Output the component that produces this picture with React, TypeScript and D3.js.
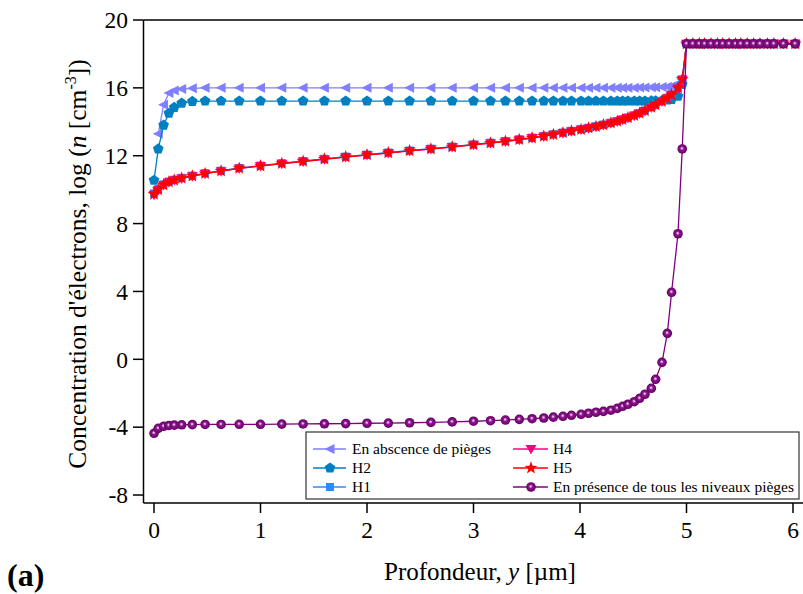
import React from 'react';
import * as d3 from 'd3';

// Depth mesh (µm)
const depth = [
  0, 0.04, 0.09, 0.14, 0.19, 0.26, 0.36, 0.48, 0.63, 0.8,
  1.0, 1.2, 1.4, 1.6, 1.8, 2.0, 2.2, 2.4, 2.6, 2.8,
  3.0, 3.16, 3.3, 3.43, 3.55, 3.66, 3.75, 3.84, 3.92, 4.01,
  4.08, 4.15, 4.22, 4.29, 4.35, 4.40, 4.45, 4.51, 4.56, 4.61,
  4.67, 4.71, 4.77, 4.82, 4.86, 4.92, 4.96, 5.0, 5.06, 5.12,
  5.17, 5.23, 5.29, 5.34, 5.40, 5.46, 5.51, 5.57, 5.63, 5.69,
  5.76, 5.82, 5.91, 6.02,
];

const absence: (number | null)[] = [
  null, 13.3, 15.0, 15.7, 15.85, 15.93, 15.97, 16.0, 16.0, 16.0,
  16.0, 16.0, 16.0, 16.0, 16.0, 16.0, 16.0, 16.0, 16.0, 16.0,
  16.0, 16.0, 16.0, 16.0, 16.0, 16.0, 16.0, 16.0, 16.0, 16.0,
  16.0, 16.0, 16.0, 16.0, 16.0, 16.0, 16.01, 16.01, 16.02, 16.02,
  16.03, 16.04, 16.05, 16.07, 16.1, 16.25, 16.5, 18.6, 18.6, 18.6,
  18.6, 18.6, 18.6, 18.6, 18.6, 18.6, 18.6, 18.6, 18.6, 18.6,
  18.6, 18.6, 18.6, 18.6,
];

const h2 = [
  10.55, 12.4, 13.8, 14.5, 14.85, 15.1, 15.2, 15.22, 15.22, 15.22,
  15.22, 15.22, 15.22, 15.22, 15.22, 15.22, 15.22, 15.22, 15.22, 15.22,
  15.22, 15.22, 15.22, 15.22, 15.22, 15.22, 15.22, 15.22, 15.22, 15.22,
  15.22, 15.22, 15.22, 15.22, 15.22, 15.22, 15.22, 15.22, 15.22, 15.22,
  15.23, 15.24, 15.25, 15.28, 15.32, 15.5, 16.2, 18.6, 18.6, 18.6,
  18.6, 18.6, 18.6, 18.6, 18.6, 18.6, 18.6, 18.6, 18.6, 18.6,
  18.6, 18.6, 18.6, 18.6,
];

const h1 = [
  9.78, 10.04, 10.31, 10.48, 10.59, 10.7, 10.83, 10.97, 11.12, 11.28,
  11.42, 11.56, 11.69, 11.82, 11.95, 12.07, 12.19, 12.31, 12.42, 12.54,
  12.67, 12.77, 12.87, 12.97, 13.07, 13.17, 13.27, 13.37, 13.47, 13.57,
  13.65, 13.74, 13.84, 13.95, 14.05, 14.15, 14.26, 14.39, 14.52, 14.67,
  14.87, 15.02, 15.22, 15.42, 15.62, 16.02, 16.5, 18.6, 18.6, 18.6,
  18.6, 18.6, 18.6, 18.6, 18.6, 18.6, 18.6, 18.6, 18.6, 18.6,
  18.6, 18.6, 18.6, 18.6,
];

const h4 = [
  9.7, 9.98, 10.27, 10.44, 10.55, 10.66, 10.79, 10.94, 11.09, 11.25,
  11.39, 11.53, 11.66, 11.79, 11.92, 12.04, 12.16, 12.28, 12.39, 12.51,
  12.64, 12.74, 12.84, 12.94, 13.04, 13.14, 13.24, 13.34, 13.44, 13.54,
  13.62, 13.71, 13.81, 13.92, 14.02, 14.12, 14.23, 14.36, 14.49, 14.64,
  14.84, 14.99, 15.19, 15.39, 15.59, 15.98, 16.48, 18.6, 18.6, 18.6,
  18.6, 18.6, 18.6, 18.6, 18.6, 18.6, 18.6, 18.6, 18.6, 18.6,
  18.6, 18.6, 18.6, 18.6,
];

const h5 = [
  9.73, 10.0, 10.28, 10.45, 10.56, 10.67, 10.8, 10.95, 11.1, 11.26,
  11.4, 11.54, 11.67, 11.8, 11.93, 12.05, 12.17, 12.29, 12.4, 12.52,
  12.65, 12.75, 12.85, 12.95, 13.05, 13.15, 13.25, 13.35, 13.45, 13.55,
  13.63, 13.72, 13.82, 13.93, 14.03, 14.13, 14.24, 14.37, 14.5, 14.65,
  14.85, 15.0, 15.2, 15.4, 15.6, 16.0, 16.5, 18.6, 18.6, 18.6,
  18.6, 18.6, 18.6, 18.6, 18.6, 18.6, 18.6, 18.6, 18.6, 18.6,
  18.6, 18.6, 18.6, 18.6,
];

const allTraps = [
  -4.36, -4.07, -3.95, -3.9, -3.88, -3.86, -3.85, -3.84, -3.84, -3.83,
  -3.83, -3.82, -3.81, -3.8, -3.79, -3.77, -3.76, -3.74, -3.72, -3.69,
  -3.65, -3.62, -3.58, -3.54, -3.5, -3.46, -3.41, -3.36, -3.3, -3.24,
  -3.18, -3.12, -3.07, -3.0, -2.89, -2.77, -2.65, -2.5, -2.3, -2.06,
  -1.71, -1.18, -0.18, 1.53, 3.95, 7.4, 12.4, 18.6, 18.6, 18.6,
  18.6, 18.6, 18.6, 18.6, 18.6, 18.6, 18.6, 18.6, 18.6, 18.6,
  18.6, 18.6, 18.6, 18.6,
];

const xTicks = [0, 1, 2, 3, 4, 5, 6];
const yTicks = [-8, -4, 0, 4, 8, 12, 16, 20];

type Shape = 'left' | 'pent' | 'square' | 'down' | 'star' | 'sphere';
const series: { name: string; values: (number | null)[]; color: string; shape: Shape }[] = [
  { name: 'En abscence de pièges', values: absence, color: '#7f7fff', shape: 'left' },
  { name: 'H2', values: h2, color: '#0080c0', shape: 'pent' },
  { name: 'H1', values: h1, color: '#2b8cff', shape: 'square' },
  { name: 'H4', values: h4, color: '#ff0080', shape: 'down' },
  { name: 'H5', values: h5, color: '#ff0000', shape: 'star' },
  { name: 'En présence de tous les niveaux pièges', values: allTraps, color: '#800080', shape: 'sphere' },
];

function polygon(pts: [number, number][]) {
  return 'M' + pts.map((p) => p[0].toFixed(2) + ',' + p[1].toFixed(2)).join('L') + 'Z';
}

function markerPath(shape: Shape): string {
  if (shape === 'left') return polygon([[-5.5, 0], [4.5, -5], [4.5, 5]]);
  if (shape === 'down') return polygon([[-5.5, -4], [5.5, -4], [0, 5.5]]);
  if (shape === 'square') return polygon([[-4, -4], [4, -4], [4, 4], [-4, 4]]);
  if (shape === 'pent') {
    const pts: [number, number][] = [];
    for (let i = 0; i < 5; i++) {
      const a = -Math.PI / 2 + (i * 2 * Math.PI) / 5;
      pts.push([5.6 * Math.cos(a), 5.6 * Math.sin(a)]);
    }
    return polygon(pts);
  }
  if (shape === 'star') {
    const pts: [number, number][] = [];
    for (let i = 0; i < 10; i++) {
      const a = -Math.PI / 2 + (i * Math.PI) / 5;
      const r = i % 2 === 0 ? 6.8 : 2.8;
      pts.push([r * Math.cos(a), r * Math.sin(a)]);
    }
    return polygon(pts);
  }
  return '';
}

function Marker({ shape, color, cx, cy }: { shape: Shape; color: string; cx: number; cy: number }) {
  if (shape === 'sphere') {
    return <circle cx={cx} cy={cy} r={4.8} fill="url(#sphereGrad)" />;
  }
  return <path d={markerPath(shape)} transform={`translate(${cx},${cy})`} fill={color} />;
}

export default function App() {
  const W = 803;
  const H = 594;
  const x = d3.scaleLinear().domain([-0.0986, 6.2]).range([143.5, 814.3]);
  const y = d3.scaleLinear().domain([-8.47, 20]).range([503, 20]);
  const serif = "'Liberation Serif', 'Times New Roman', serif";

  const line = d3
    .line<[number, number | null]>()
    .defined((d) => d[1] !== null)
    .x((d) => x(d[0]))
    .y((d) => y(d[1] as number));

  const legendRows = [
    { s: series[0], col: 0, row: 0 },
    { s: series[1], col: 0, row: 1 },
    { s: series[2], col: 0, row: 2 },
    { s: series[3], col: 1, row: 0 },
    { s: series[4], col: 1, row: 1 },
    { s: series[5], col: 1, row: 2 },
  ];
  const legCols = [{ x1: 313, x2: 346, mx: 330, tx: 352 }, { x1: 513, x2: 548, mx: 531, tx: 553 }];
  const legRowY = [449, 468, 487];

  return (
    <svg width={W} height={H} style={{ position: 'absolute', left: 0, top: 0, background: '#fff' }}>
      <defs>
        <radialGradient id="sphereGrad" cx="50%" cy="50%" r="50%" fx="46%" fy="42%">
          <stop offset="0%" stopColor="#f8eef8" />
          <stop offset="14%" stopColor="#d9a6d9" />
          <stop offset="40%" stopColor="#8c168c" />
          <stop offset="100%" stopColor="#640064" />
        </radialGradient>
        <clipPath id="plotClip">
          <rect x={143} y={0} width={W - 143} height={503} />
        </clipPath>
      </defs>
      <rect x={0} y={0} width={W} height={H} fill="#fff" />

      <g clipPath="url(#plotClip)">
        {series.map((s) => {
          const pts = depth.map((d, i) => [d, s.values[i]] as [number, number | null]);
          return (
            <g key={s.name}>
              <path d={line(pts) || ''} fill="none" stroke={s.color} strokeWidth={1.3} />
              {pts
                .filter((p) => p[1] !== null)
                .map((p, i) => (
                  <Marker key={i} shape={s.shape} color={s.color} cx={x(p[0])} cy={y(p[1] as number)} />
                ))}
            </g>
          );
        })}
      </g>

      {/* axes */}
      <line x1={143.5} x2={143.5} y1={20} y2={503} stroke="#000" strokeWidth={1.5} />
      <line x1={143.5} x2={W} y1={503} y2={503} stroke="#000" strokeWidth={1.5} />
      <line x1={143.5} x2={W} y1={20} y2={20} stroke="#000" strokeWidth={1.5} />
      {yTicks.map((t) => (
        <g key={t}>
          <line x1={133} x2={143.5} y1={y(t)} y2={y(t)} stroke="#000" strokeWidth={1.5} />
          <text x={128} y={y(t)} dy="0.35em" textAnchor="end" fontFamily={serif} fontSize={23.5}>
            {t}
          </text>
        </g>
      ))}
      {xTicks.map((t) => (
        <g key={t}>
          <line x1={x(t)} x2={x(t)} y1={503} y2={513} stroke="#000" strokeWidth={1.5} />
          <text x={x(t)} y={538} textAnchor="middle" fontFamily={serif} fontSize={23.5}>
            {t}
          </text>
        </g>
      ))}

      <text x={480} y={580} textAnchor="middle" fontFamily={serif} fontSize={25}>
        Profondeur, <tspan fontStyle="italic">y</tspan> [µm]
      </text>
      <text
        transform="translate(86,264) rotate(-90)"
        textAnchor="middle"
        fontFamily={serif}
        fontSize={25.5}
      >
        Concentration d'électrons, log (<tspan fontStyle="italic">n</tspan> [cm
        <tspan dy={-10} fontSize={16}>-3</tspan>
        <tspan dy={10}>])</tspan>
      </text>
      <text x={7} y={586} fontFamily={serif} fontSize={32} fontWeight="bold">
        (a)
      </text>

      {/* legend */}
      <rect x={306} y={432} width={493} height={67} fill="#fff" stroke="#333" strokeWidth={1.2} />
      {legendRows.map(({ s, col, row }) => {
        const c = legCols[col];
        const ly = legRowY[row];
        return (
          <g key={s.name}>
            <line x1={c.x1} x2={c.x2} y1={ly} y2={ly} stroke={s.color} strokeWidth={1.5} />
            <Marker shape={s.shape} color={s.color} cx={c.mx} cy={ly} />
            <text x={c.tx} y={ly} dy="0.35em" fontFamily={serif} fontSize={15.5}>
              {s.name}
            </text>
          </g>
        );
      })}
    </svg>
  );
}
